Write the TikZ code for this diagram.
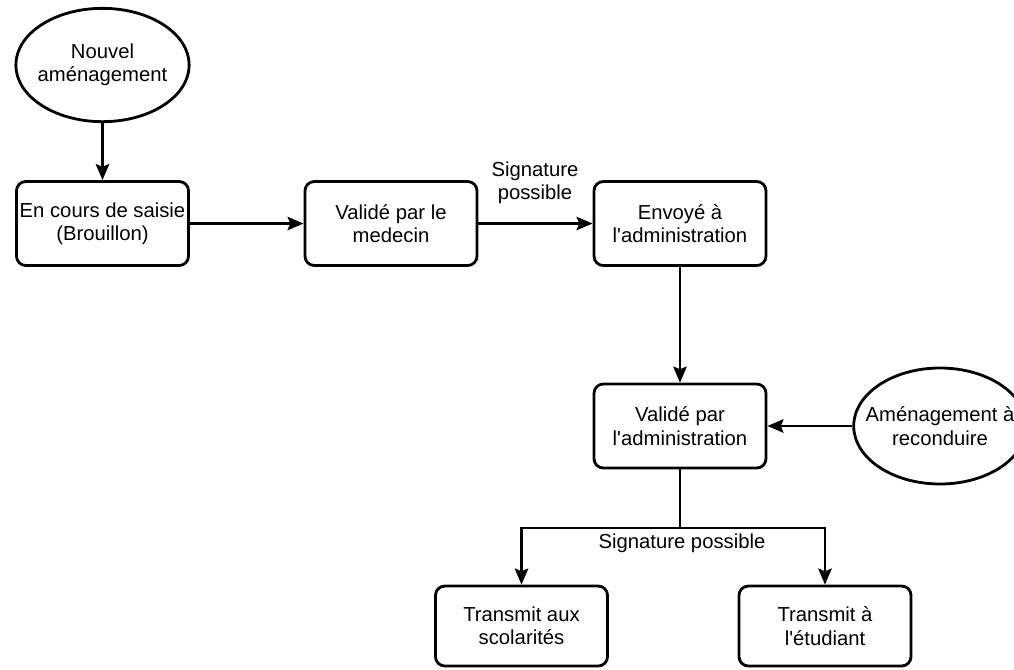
\documentclass[tikz,border=0pt]{standalone}
\usepackage{fontspec}
\setmainfont{Liberation Sans}
\usetikzlibrary{arrows.meta,shapes}

\begin{document}
\begin{tikzpicture}[x=0.75pt,y=-0.75pt,line width=2.1pt,
	font=\fontsize{15.2}{17.5}\selectfont,
	etat/.style={draw,rounded corners=7pt,minimum width=129pt,minimum height=63pt,align=center,inner sep=0pt},
	depart/.style={draw,ellipse,minimum width=130pt,minimum height=85pt,align=center,inner sep=0pt,inner xsep=-3pt}]
	\useasboundingbox (0,0) rectangle (1014,669);
	\node[depart] (A) at (102.5,65) {Nouvel\\aménagement};
	\node[etat] (B) at (102.5,223.5) {En cours de saisie\\(Brouillon)};
	\node[etat] (C) at (391,223.5) {Validé par le\\medecin};
	\node[etat] (D) at (680,223.5) {Envoyé à\\l\textquotesingle administration};
	\node[etat] (E) at (680,426) {Validé par\\l\textquotesingle administration};
	\node[depart,inner xsep=-10pt,minimum width=125pt,minimum height=87pt] (F) at (940,426) {Aménagement à\\reconduire};
	\node[etat,minimum height=60pt] (G) at (521.5,626) {Transmit aux\\scolarités};
	\node[etat,minimum height=60pt] (H) at (825,626) {Transmit à\\l\textquotesingle étudiant};
	%
	%  LABELS
	%
	\node[align=center] (S1) at (535,183) {Signature\\possible};
	\node (S2) at (682,543) {Signature possible};
	\coordinate (J) at (680,528);
	%
	\path[-{Stealth[length=12pt,width=10pt,inset=2pt]}]
	(A) edge (B)
	(B) edge (C)
	(C) edge (D)
	(D) edge (E)
	(F) edge (E);
	\draw (E) -- (J);
	\draw[-{Stealth[length=12pt,width=10pt,inset=2pt]}] (J) -| (G.north);
	\draw[-{Stealth[length=12pt,width=10pt,inset=2pt]}] (J) -| (H.north);
\end{tikzpicture}
\end{document}
